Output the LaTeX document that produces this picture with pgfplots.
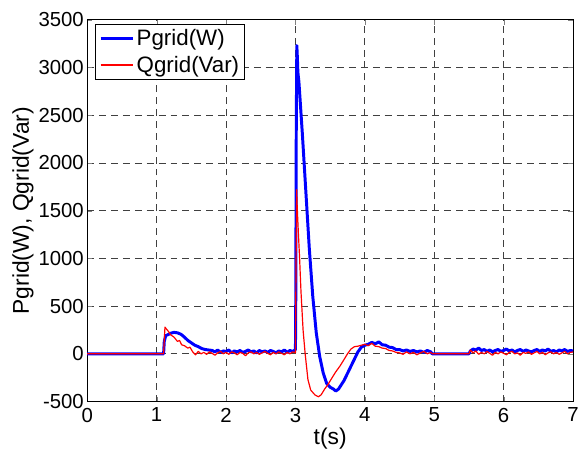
\documentclass[border=0pt]{standalone}
\usepackage{fontspec}
\setmainfont{Liberation Sans}
\usepackage{pgfplots}
\pgfplotsset{compat=1.18}

\begin{document}
\begin{tikzpicture}
\begin{axis}[
	scale only axis,
	width=490pt, height=385pt,
	xmin=0, xmax=7, ymin=-500, ymax=3500,
	xtick={0,...,7},
	ytick={-500,0,...,3500},
	scaled y ticks=false,
	/pgf/number format/1000 sep={},
	/pgf/number format/assume math mode=true,
	tick label style={font=\fontsize{20.5}{22}\selectfont},
	x tick label style={yshift=-3pt},
	label style={font=\fontsize{23}{26}\selectfont},
	xlabel={t(s)},
	ylabel={Pgrid(W), Qgrid(Var)},
	xlabel style={yshift=1pt},
	ylabel style={yshift=-2pt},
	tick align=inside,
	xtick pos=both, ytick pos=both,
	major tick length=5pt,
	axis line style={line width=1pt},
	grid=major,
	major grid style={black!75, line width=0.7pt, dash pattern=on 7pt off 5pt},
	legend style={at={(0,1)}, anchor=north west, xshift=8pt, yshift=-4pt,
		draw=black, line width=0.8pt, fill=white, font=\fontsize{22.5}{26}\selectfont,
		inner sep=3.5pt, row sep=5pt},
	legend cell align=left,
	legend image code/.code={\draw[#1] (0pt,0pt) -- (33pt,0pt);},
]
% Pgrid (W)
\addplot[blue, line width=3pt, line join=round] coordinates {
(0,0) (1.10,0) (1.11,130) (1.13,190) (1.16,200) (1.20,215) (1.25,225) (1.30,220)
(1.35,205) (1.40,175) (1.45,140) (1.50,115) (1.55,90) (1.60,75) (1.65,55) (1.70,45)
(1.75,40) (1.80,35) (1.84,20) (1.88,40) (1.92,15) (1.96,30) (2.00,25) (2.04,40)
(2.08,10) (2.12,30) (2.16,20) (2.20,35) (2.24,15) (2.28,25) (2.32,40) (2.36,20)
(2.40,30) (2.44,10) (2.48,35) (2.52,20) (2.56,30) (2.60,15) (2.64,35) (2.68,25)
(2.72,10) (2.76,30) (2.80,20) (2.84,40) (2.88,15) (2.92,35) (2.96,25) (2.995,40)
(3.000,40) (3.005,600) (3.012,2400) (3.020,3230) (3.028,3100) (3.035,2950)
(3.05,2850) (3.10,2300) (3.15,1700) (3.20,1100) (3.25,600) (3.30,220) (3.35,-30)
(3.40,-200) (3.45,-310) (3.50,-350) (3.55,-370) (3.58,-390) (3.62,-370) (3.70,-280)
(3.80,-130) (3.90,20) (3.95,70) (4.00,90) (4.05,100) (4.10,120) (4.15,105) (4.20,125)
(4.25,95) (4.30,90) (4.35,70) (4.40,65) (4.45,45) (4.50,45) (4.55,30) (4.60,40)
(4.65,25) (4.70,35) (4.75,20) (4.80,30) (4.85,15) (4.90,35) (4.95,20) (4.97,0)
(5.50,0) (5.52,30) (5.56,50) (5.60,40) (5.64,60) (5.68,35) (5.72,45) (5.76,25)
(5.80,40) (5.84,20) (5.88,35) (5.92,45) (5.96,25) (6.00,35) (6.04,50) (6.08,30)
(6.12,40) (6.16,20) (6.20,35) (6.24,45) (6.28,25) (6.32,40) (6.36,30) (6.40,20)
(6.44,35) (6.48,45) (6.52,25) (6.56,40) (6.60,30) (6.64,50) (6.68,25) (6.72,35)
(6.76,20) (6.80,40) (6.84,30) (6.88,45) (6.92,25) (6.96,35) (7.00,30)
};
\addlegendentry{Pgrid(W)}
% Qgrid (Var)
\addplot[red, line width=1.2pt, line join=round] coordinates {
(0,0) (1.10,0) (1.11,150) (1.12,280) (1.14,260) (1.17,235) (1.20,200) (1.25,175)
(1.30,130) (1.33,140) (1.36,95) (1.40,85) (1.45,60) (1.48,70) (1.52,20) (1.56,-10)
(1.60,25) (1.64,0) (1.68,15) (1.72,-5) (1.76,20) (1.80,5) (1.84,-15) (1.88,10)
(1.92,25) (1.96,0) (2.00,15) (2.04,-5) (2.08,20) (2.12,10) (2.16,-10) (2.20,15)
(2.24,5) (2.28,-20) (2.32,10) (2.36,20) (2.40,0) (2.44,15) (2.48,-5) (2.52,10)
(2.56,25) (2.60,5) (2.64,-10) (2.68,15) (2.72,0) (2.76,20) (2.80,5) (2.84,-10)
(2.88,15) (2.92,0) (2.96,20) (3.000,10) (3.008,900) (3.018,1720) (3.025,1550)
(3.04,1300) (3.06,1000) (3.08,650) (3.11,250) (3.14,0) (3.18,-270) (3.22,-380)
(3.28,-430) (3.33,-450) (3.37,-430) (3.42,-370) (3.47,-320) (3.52,-260) (3.58,-190)
(3.64,-130) (3.70,-60) (3.75,0) (3.80,50) (3.85,75) (3.90,80) (3.95,90) (4.00,100)
(4.05,85) (4.10,110) (4.15,80) (4.20,75) (4.25,60) (4.30,55) (4.35,35) (4.40,30)
(4.45,15) (4.50,10) (4.55,-5) (4.60,20) (4.65,0) (4.70,15) (4.75,-10) (4.80,10)
(4.85,25) (4.90,0) (4.95,15) (4.97,0) (5.50,0) (5.52,40) (5.56,10) (5.60,30)
(5.64,-5) (5.68,15) (5.72,0) (5.76,25) (5.80,5) (5.84,-15) (5.88,15) (5.92,0)
(5.96,20) (6.00,5) (6.04,-10) (6.08,15) (6.12,25) (6.16,0) (6.20,10) (6.24,-15)
(6.28,15) (6.32,5) (6.36,20) (6.40,-5) (6.44,10) (6.48,25) (6.52,0) (6.56,15)
(6.60,-10) (6.64,10) (6.68,20) (6.72,0) (6.76,15) (6.80,-5) (6.84,10) (6.88,25)
(6.92,0) (6.96,15) (7.00,20)
};
\addlegendentry{Qgrid(Var)}
\end{axis}
\path (current axis.south west) ++(-88pt,-51pt) rectangle ++(582pt,456pt);
\end{tikzpicture}
\end{document}
